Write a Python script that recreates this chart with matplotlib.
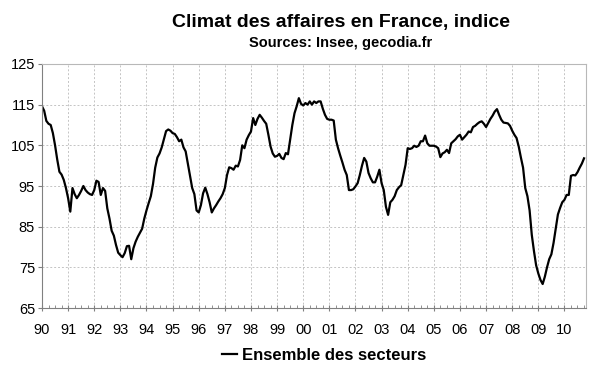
import matplotlib
matplotlib.use("Agg")
import matplotlib.pyplot as plt
import numpy as np

plt.rcParams['font.family'] = ['Liberation Sans', 'DejaVu Sans']

# Indice du climat des affaires, mensuel, janv. 1990 -> oct. 2010
v1990 = [114.6, 113.5, 111.0, 110.3, 110.0, 108.0, 105.0, 101.5, 98.5, 97.8, 96.5, 94.5]
v1991 = [92.0, 88.7, 94.5, 93.0, 92.0, 92.8, 93.8, 95.0, 94.0, 93.4, 93.0, 92.8]
v1992 = [94.0, 96.3, 96.0, 92.8, 94.5, 93.8, 89.5, 87.0, 84.0, 82.8, 80.5, 78.6]
v1993 = [78.0, 77.5, 78.5, 80.2, 80.3, 77.0, 79.7, 81.3, 82.5, 83.5, 84.5, 87.0]
v1994 = [89.0, 90.8, 92.5, 95.5, 99.5, 102.0, 103.0, 104.5, 106.5, 108.5, 108.9, 108.6]
v1995 = [108.0, 107.8, 107.0, 106.0, 106.4, 104.5, 103.5, 100.5, 97.5, 94.5, 93.0, 89.0]
v1996 = [88.5, 90.3, 93.2, 94.6, 93.0, 91.0, 88.5, 89.5, 90.3, 91.2, 92.0, 93.0]
v1997 = [94.5, 97.7, 99.6, 99.4, 99.0, 100.0, 99.8, 101.4, 105.0, 104.3, 106.4, 107.5]
v1998 = [108.4, 111.7, 110.0, 111.5, 112.5, 111.8, 111.0, 110.3, 107.6, 104.7, 103.0, 102.2]
v1999 = [102.4, 102.9, 101.9, 101.6, 103.1, 102.8, 106.4, 110.0, 112.9, 114.6, 116.6, 115.2]
v2000 = [114.8, 115.4, 115.0, 115.8, 115.0, 115.8, 115.4, 115.8, 115.8, 114.0, 112.5, 111.5]
v2001 = [111.3, 111.3, 111.1, 106.4, 104.3, 102.5, 100.8, 99.0, 97.7, 94.0, 94.0, 94.2]
v2002 = [94.9, 95.7, 97.7, 100.0, 101.9, 101.0, 98.2, 96.9, 95.9, 95.9, 97.3, 99.0]
v2003 = [95.7, 94.0, 89.9, 87.9, 91.0, 91.6, 92.5, 94.0, 94.7, 95.2, 97.7, 100.2]
v2004 = [104.3, 104.1, 104.3, 104.9, 104.6, 104.9, 106.0, 106.0, 107.4, 105.5, 104.9, 104.9]
v2005 = [104.9, 104.7, 104.3, 102.1, 103.0, 103.3, 103.9, 103.1, 105.5, 106.0, 106.5, 107.2]
v2006 = [107.6, 106.4, 107.0, 107.6, 108.4, 108.2, 109.5, 109.8, 110.3, 110.7, 110.9, 110.3]
v2007 = [109.5, 110.5, 111.5, 112.3, 113.3, 113.9, 112.5, 111.3, 110.6, 110.5, 110.4, 109.8]
v2008 = [108.6, 107.6, 106.8, 104.7, 102.0, 99.5, 94.5, 92.5, 89.0, 83.0, 79.0, 75.5]
v2009 = [73.5, 71.9, 70.9, 72.7, 75.0, 77.0, 78.2, 81.0, 84.5, 88.0, 89.6, 91.0]
v2010 = [91.6, 92.8, 92.8, 97.5, 97.7, 97.6, 98.4, 99.5, 100.5, 101.8]

values = (v1990 + v1991 + v1992 + v1993 + v1994 + v1995 + v1996 + v1997
          + v1998 + v1999 + v2000 + v2001 + v2002 + v2003 + v2004 + v2005
          + v2006 + v2007 + v2008 + v2009 + v2010)
years = list(range(1990, 2011))
year_labels = ["%02d" % (y % 100) for y in years]
yticks = [65, 75, 85, 95, 105, 115, 125]

x = 1990 + np.arange(len(values)) / 12.0

fig = plt.figure(figsize=(6.0, 3.72), dpi=100)
ax = fig.add_axes([0.07, 0.172, 0.907, 0.656])

ax.plot(x, values, color="black", lw=1.6, label="Ensemble des secteurs")

ax.set_xlim(1990, 2010 + 10 / 12)
ax.set_ylim(65, 125)
ax.set_xticks(years)
ax.set_xticklabels(year_labels)
ax.set_xticks(np.arange(1990, 2011, 0.25), minor=True)
ax.set_yticks(yticks)

ax.grid(True, which="major", color="#c4c4c4", linestyle=(0, (2, 2)), lw=0.7)
ax.tick_params(axis="x", which="major", direction="inout", length=5,
               color="#808080", labelsize=10.5, pad=8)
ax.tick_params(axis="x", which="minor", direction="in", length=2.2,
               color="#808080")
ax.tick_params(axis="y", which="major", direction="out", length=3,
               color="#808080", labelsize=10.5, pad=2)

for side in ["left", "bottom"]:
    ax.spines[side].set_color("#808080")
for side in ["top", "right"]:
    ax.spines[side].set_color("#b8b8b8")

fig.text(0.568, 0.928, "Climat des affaires en France, indice",
         ha="center", va="baseline", fontsize=14, fontweight="bold")
fig.text(0.568, 0.8745, "Sources: Insee, gecodia.fr",
         ha="center", va="baseline", fontsize=10.5, fontweight="bold")

fig.legend(loc="center", bbox_to_anchor=(0.54, 1 - 355 / 372), frameon=False,
           prop={"weight": "bold", "size": 12}, handlelength=0.9,
           handletextpad=0.3)

fig.savefig("out.png", dpi=100)
